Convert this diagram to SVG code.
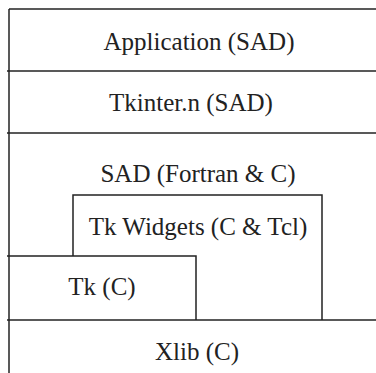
<svg xmlns="http://www.w3.org/2000/svg" width="376" height="373" viewBox="0 0 376 373">
  <style>
    .ln { stroke: #222; stroke-width: 1.5; fill: none; }
    .lbl { font-family: "Liberation Serif", "DejaVu Serif", "Noto Serif", Tinos, FreeSerif, serif; font-size: 25px; fill: #222; text-anchor: middle; }
  </style>
  <rect width="376" height="373" fill="#fff"/>
  <g id="connectors">
    <!-- outer frame: left edge and layer separators -->
    <line class="ln" x1="9" y1="9" x2="9" y2="373"/>
    <line class="ln" x1="9" y1="9" x2="376" y2="9"/>
    <line class="ln" x1="7" y1="71" x2="376" y2="71"/>
    <line class="ln" x1="7" y1="133" x2="376" y2="133"/>
    <line class="ln" x1="7" y1="320" x2="376" y2="320"/>
  </g>
  <g id="application">
    <text class="lbl" x="199" y="50">Application (SAD)</text>
  </g>
  <g id="tkinter">
    <text class="lbl" x="191" y="111">Tkinter.n (SAD)</text>
  </g>
  <g id="sad">
    <text class="lbl" x="198" y="182">SAD (Fortran &amp; C)</text>
  </g>
  <g id="tk-widgets">
    <polyline class="ln" points="73,256 73,195 322,195 322,320"/>
    <text class="lbl" x="198" y="235">Tk Widgets (C &amp; Tcl)</text>
  </g>
  <g id="tk">
    <polyline class="ln" points="7,256 196,256 196,320"/>
    <text class="lbl" x="102" y="295">Tk (C)</text>
  </g>
  <g id="xlib">
    <text class="lbl" x="197" y="360">Xlib (C)</text>
  </g>
</svg>
